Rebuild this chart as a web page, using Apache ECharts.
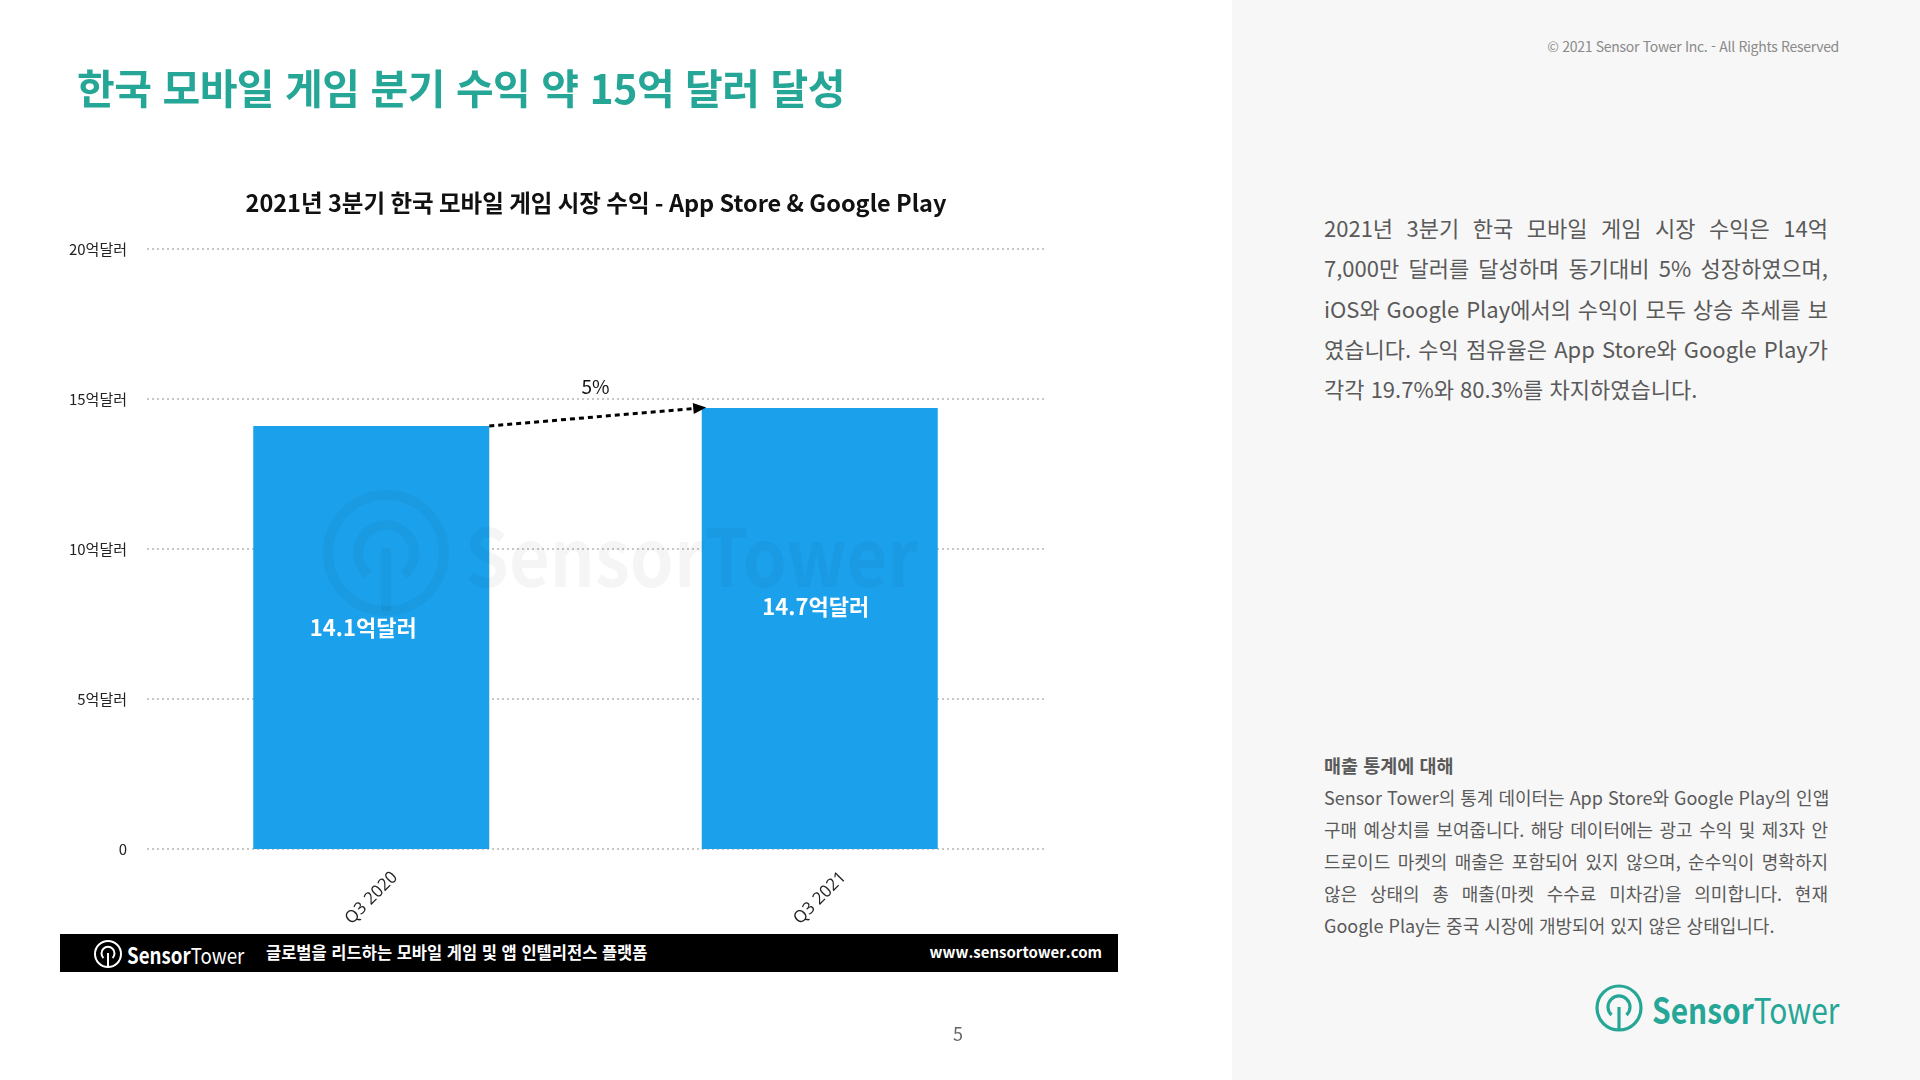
<!DOCTYPE html>
<html lang="ko">
<head>
<meta charset="utf-8">
<script src="https://cdn.jsdelivr.net/npm/echarts@6/dist/echarts.min.js"></script>
<style>
  html, body { margin: 0; padding: 0; }
  body { width: 1920px; height: 1080px; position: relative; overflow: hidden; background: #fff;
         font-family: "Noto Sans CJK KR", "Noto Sans", sans-serif; }
  #side { position: absolute; left: 1232px; top: 0; width: 688px; height: 1080px; background: #f7f7f7; }
  #chart { position: absolute; left: 0; top: 0; width: 1232px; height: 1080px; }
  .headline { position: absolute; left: 77px; top: 56px; font-size: 41px; font-weight: 700; color: #26a696; letter-spacing: -0.5px; white-space: nowrap; }
  .copy { position: absolute; right: 81px; top: 36px; font-size: 14px; color: #8a8a8a; letter-spacing: -0.3px; }
  .para { position: absolute; left: 1324px; width: 504px; color: #5a5a5a; }
  .para div { white-space: nowrap; text-align: justify; text-align-last: justify; }
  .para div.last { text-align-last: left; }
  #p1 { top: 207px; font-size: 22px; line-height: 40.3px; }
  #p2 { top: 749px; font-size: 18px; line-height: 32px; }
  #p2 .head { font-weight: 700; text-align-last: left; font-size: 18.5px; }
  .footer { position: absolute; left: 60px; top: 934px; width: 1058px; height: 38px; background: #000; color: #fff; }
  .footer .tag { position: absolute; left: 206px; top: 6px; font-size: 16.5px; font-weight: 700; }
  .footer .url { position: absolute; right: 16px; top: 7px; font-size: 15px; font-weight: 700; }
  .logo { position: absolute; display: flex; align-items: center; white-space: nowrap; }
  .logo .word { display: inline-block; transform-origin: left center; }
  .logo b { font-weight: 700; }
  .logo span { font-weight: 400; }
  .pnum { position: absolute; left: 953px; top: 1020px; font-size: 18px; color: #666; }
</style>
</head>
<body>
<div id="side"></div>
<div id="chart"></div>
<div class="headline">한국 모바일 게임 분기 수익 약 15억 달러 달성</div>
<div class="copy">© 2021 Sensor Tower Inc. - All Rights Reserved</div>

<div class="para" id="p1">
  <div>2021년 3분기 한국 모바일 게임 시장 수익은 14억</div>
  <div>7,000만 달러를 달성하며 동기대비 5% 성장하였으며,</div>
  <div>iOS와 Google Play에서의 수익이 모두 상승 추세를 보</div>
  <div>였습니다. 수익 점유율은 App Store와 Google Play가</div>
  <div class="last">각각 19.7%와 80.3%를 차지하였습니다.</div>
</div>

<div class="para" id="p2">
  <div class="head">매출 통계에 대해</div>
  <div>Sensor Tower의 통계 데이터는 App Store와 Google Play의 인앱</div>
  <div>구매 예상치를 보여줍니다. 해당 데이터에는 광고 수익 및 제3자 안</div>
  <div>드로이드 마켓의 매출은 포함되어 있지 않으며, 순수익이 명확하지</div>
  <div>않은 상태의 총 매출(마켓 수수료 미차감)을 의미합니다. 현재</div>
  <div class="last">Google Play는 중국 시장에 개방되어 있지 않은 상태입니다.</div>
</div>

<div class="footer">
  <div class="logo" style="left:33px; top:4px; font-size:22px; color:#fff;">
    <svg width="30" height="30" viewBox="0 0 30 30" style="margin-right:4px">
      <circle cx="15" cy="15" r="13" fill="none" stroke="#fff" stroke-width="2"/>
      <path d="M10.5 19 A6.5 6.5 0 1 1 19.5 19" fill="none" stroke="#fff" stroke-width="2"/>
      <line x1="15" y1="14" x2="15" y2="28" stroke="#fff" stroke-width="2"/>
    </svg>
    <div class="word" style="transform:scaleX(0.85)"><b>Sensor</b><span>Tower</span></div>
  </div>
  <div class="tag">글로벌을 리드하는 모바일 게임 및 앱 인텔리전스 플랫폼</div>
  <div class="url">www.sensortower.com</div>
</div>

<div class="logo" style="left:1594px; top:982px; font-size:36px; color:#26a696;">
  <svg width="50" height="50" viewBox="0 0 50 50" style="margin-right:8px">
    <circle cx="25" cy="25" r="22" fill="none" stroke="#26a696" stroke-width="3.2"/>
    <path d="M17.5 32 A11 11 0 1 1 32.5 32" fill="none" stroke="#26a696" stroke-width="3.2"/>
    <line x1="25" y1="24" x2="25" y2="47" stroke="#26a696" stroke-width="3.2"/>
  </svg>
  <div class="word" style="transform:scaleX(0.83)"><b>Sensor</b><span>Tower</span></div>
</div>

<div class="pnum">5</div>

<script>
const categories = ['Q3 2020', 'Q3 2021'];
const revenue = [14.1, 14.7];           // 억달러
const yTickLabels = ['0', '5억달러', '10억달러', '15억달러', '20억달러'];
const growthLabel = '5%';

const FONT = '"Noto Sans CJK KR", "Noto Sans", sans-serif';
const BAR_W = 236;
const LABEL_NUDGE = [[-8, -10], [-4, -22]];   // label nudge inside each bar

const chart = echarts.init(document.getElementById('chart'), null, { renderer: 'canvas' });

chart.setOption({
    animation: false,
    textStyle: { fontFamily: FONT },
    title: {
        text: '2021년 3분기 한국 모바일 게임 시장 수익 - App Store & Google Play',
        left: 591, top: 186, textAlign: 'center',
        textStyle: { fontFamily: FONT, fontSize: 23.5, fontWeight: 700, color: '#111' }
    },
    grid: { left: 147, top: 249, width: 897, height: 600, containLabel: false },
    xAxis: {
        type: 'category',
        data: categories,
        axisLine: { show: false },
        axisTick: { show: false },
        axisLabel: {
            rotate: 45, margin: 2, verticalAlign: 'top', padding: [25, 0, 0, 0],
            fontSize: 17, color: '#222', fontFamily: '"Open Sans", sans-serif'
        }
    },
    yAxis: {
        type: 'value', min: 0, max: 20, interval: 5,
        axisLine: { show: false }, axisTick: { show: false },
        axisLabel: {
            margin: 20, fontSize: 15, color: '#222',
            formatter: (v, i) => yTickLabels[i]
        },
        splitLine: { lineStyle: { type: [2, 3], color: '#b5b5b5', width: 1.5 } }
    },
    series: [{
        type: 'bar',
        data: revenue.map((v, i) => ({ value: v, label: { offset: LABEL_NUDGE[i] } })),
        barWidth: BAR_W,
        itemStyle: { color: '#1ba1ec' },
        label: {
            show: true, position: 'inside',
            formatter: p => p.value + '억달러',
            color: '#fff', fontSize: 22, fontWeight: 700, fontFamily: FONT
        }
    }]
});

// growth arrow from top-right of first bar to top-left of second bar
const p0 = chart.convertToPixel({ seriesIndex: 0 }, [0, revenue[0]]);
const p1 = chart.convertToPixel({ seriesIndex: 0 }, [1, revenue[1]]);
const start = [p0[0] + BAR_W / 2, p0[1]];
const end = [p1[0] - BAR_W / 2, p1[1]];

const wm = 'rgba(0,0,0,0.045)';
chart.setOption({
    series: [{
        markLine: {
            silent: true,
            symbol: ['none', 'triangle'],
            symbolSize: [11, 13],
            label: { show: false },
            lineStyle: { color: '#000', type: [5, 4], width: 3 },
            data: [[{ x: start[0], y: start[1] }, { x: end[0] - 2, y: end[1] }]]
        }
    }],
    graphic: [
        { type: 'text', id: 'growth', x: (start[0] + end[0]) / 2, y: (start[1] + end[1]) / 2 - 40,
          style: { text: growthLabel, font: '19px ' + FONT, fill: '#111', align: 'center' } },
        // faint watermark
        { type: 'circle', id: 'wm1', silent: true, z: 50, shape: { cx: 386, cy: 553, r: 58 },
          style: { fill: null, stroke: wm, lineWidth: 10 } },
        { type: 'arc', id: 'wm2', silent: true, z: 50,
          shape: { cx: 386, cy: 553, r: 28, startAngle: Math.PI * 0.72, endAngle: Math.PI * 0.28, clockwise: true },
          style: { fill: null, stroke: wm, lineWidth: 10 } },
        { type: 'line', id: 'wm3', silent: true, z: 50, shape: { x1: 386, y1: 548, x2: 386, y2: 611 },
          style: { stroke: wm, lineWidth: 10 } },
        { type: 'text', id: 'wm4', silent: true, z: 50, x: 465, y: 557, scaleX: 0.88,
          style: { text: 'SensorTower', font: '700 80px ' + FONT, fill: 'rgba(0,0,0,0.04)', verticalAlign: 'middle' } }
    ]
});
</script>
</body>
</html>
